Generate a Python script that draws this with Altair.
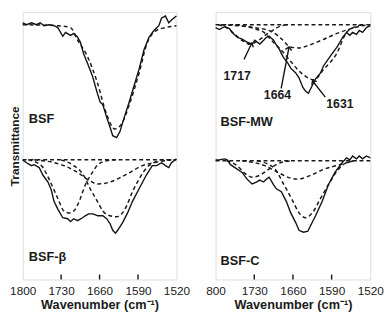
import altair as alt
import pandas as pd

# ---------------- data (arbitrary transmittance units) ----------------
TICKS = [1800, 1730, 1660, 1590, 1520]
INNER_TICKS = [1730, 1660, 1590]

# BSF (top-left) measured spectrum and fit
BSF_WN = [1800,1793,1784,1775,1768,1761,1752,1743,1736,1727,1722,1713,1707,1700,1695,1689,1682,1673,
          1664,1659,1654,1647,1641,1636,1629,1623,1615,1606,1597,1588,1579,1570,1561,1552,1547,1540,
          1534,1529,1520]
BSF_T = [266,264,266,264,266,263,264,263,261,252,256,253,255,251,246,234,224,211,
         193,184,181,168,158,149,147,153,168,184,201,218,238,251,258,263,271,273,
         266,269,273]
BSF_FIT_WN = [1800,1736,1713,1700,1682,1664,1647,1632,1620,1606,1588,1574,1557,1540,1520]
BSF_FIT_T = [264,263,261,248,231,204,171,156,161,181,214,244,258,261,263]

# BSF-MW (top-right)
MW_WN = [1800,1793,1784,1775,1770,1761,1752,1743,1734,1729,1720,1713,1708,1703,1695,1690,1685,1678,1669,1664,
         1655,1649,1642,1637,1632,1625,1619,1610,1605,1593,1580,1570,1563,1557,1552,1545,1540,1534,1527,1520]
MW_T = [261,259,262,260,256,251,249,246,244,248,244,248,251,252,248,243,239,231,224,219,
        214,209,199,195,193,201,208,214,221,231,241,251,256,253,256,254,258,256,261,263]
MW_BASE_WN = [1800, 1520]
MW_BASE_T = [264, 264]
MW_1717_WN = [1795,1780,1765,1750,1736,1722,1708,1697,1685,1670]
MW_1717_T = [264,261,254,247,244,248,254,258,262,264]
MW_1664_WN = [1790,1760,1730,1699,1680,1665,1650,1630,1604,1580,1560,1534,1520]
MW_1664_T = [264,263,261,257,249,241,240,243,249,255,259,263,264]
MW_1631_WN = [1764,1730,1710,1699,1680,1664,1643,1622,1604,1581,1563,1551,1530]
MW_1631_T = [264,260,255,248,237,226,213,207,218,234,256,261,264]

# BSF-beta (bottom-left)
BB_WN = [1800,1793,1784,1779,1770,1763,1754,1748,1743,1736,1727,1718,1713,1707,1700,1691,1686,1680,1672,1663,
         1654,1647,1641,1636,1631,1627,1618,1609,1600,1588,1575,1564,1556,1547,1540,1534,1529,1520]
BB_T = [124,121,118,119,116,108,101,93,81,73,64,63,60,63,61,64,66,68,68,66,
        66,63,58,51,48,51,59,69,81,94,108,118,118,121,118,116,121,125]
BB_BASE_WN = [1800, 1520]
BB_BASE_T = [124, 124]
BB_C1_WN = [1790,1766,1752,1736,1725,1716,1707,1695,1686,1673,1663,1647,1630]
BB_C1_T = [124,118,104,84,71,69,71,84,98,111,119,123,124]
BB_C2_WN = [1730,1707,1689,1677,1664,1654,1641,1629,1620,1611,1600,1588,1574,1561,1547,1530]
BB_C2_T = [124,118,108,94,81,71,66,65,68,76,91,104,116,121,124,124]
BB_C3_WN = [1779,1730,1700,1680,1663,1641,1611,1582,1552,1529]
BB_C3_T = [124,119,111,103,99,101,109,118,122,124]

# BSF-C (bottom-right)
BC_WN = [1800,1793,1784,1779,1773,1765,1752,1743,1734,1726,1720,1713,1708,1703,1695,1690,1681,1672,1664,1655,
         1649,1641,1633,1628,1619,1607,1596,1584,1571,1563,1557,1552,1545,1540,1534,1527,1520]
BC_T = [124,124,125,124,119,116,111,104,99,101,103,101,104,106,98,94,91,81,69,59,
        51,49,50,56,66,81,98,111,121,126,124,128,125,128,125,128,126]
BC_BASE_WN = [1800, 1520]
BC_BASE_T = [123, 123]
BC_C1_WN = [1780,1761,1747,1734,1720,1704,1687,1664]
BC_C1_T = [123,118,110,106,108,114,120,123]
BC_C2_WN = [1752,1711,1687,1664,1651,1628,1605,1575,1550]
BC_C2_T = [123,118,111,105,104,108,114,119,123]
BC_C3_WN = [1725,1695,1676,1660,1649,1637,1625,1610,1593,1578,1563,1545]
BC_C3_T = [123,116,98,81,69,64,69,84,101,114,121,123]

# sample labels
LEFT_LABELS = ["BSF", "BSF-β"]
LEFT_LABEL_WN = [1789, 1789]
LEFT_LABEL_T = [166, 23]
RIGHT_LABELS = ["BSF-MW", "BSF-C"]
RIGHT_LABEL_WN = [1791, 1791]
RIGHT_LABEL_T = [163, 19]

# peak annotations in BSF-MW
PEAK_TEXT = ["1717", "1664", "1631"]
PEAK_TEXT_WN = [1761, 1688, 1575]
PEAK_TEXT_T = [211, 191, 182]
ARROW_FROM_WN = [1748.6, 1681.3, 1601.5]
ARROW_FROM_T = [228, 198, 189]
ARROW_TIP_WN = [1734.4, 1667.0, 1624.6]
ARROW_TIP_T = [245, 241, 206]
ARROW_ANGLE = [25, 10.5, 323]

# ---------------- helpers ----------------
W_L, W_R, H = 157, 158, 273
FONT = "Liberation Sans"

XSCALE = alt.Scale(domain=[1520, 1800], reverse=True, nice=False, zero=False)
YSCALE = alt.Scale(domain=[0, 277], nice=False, zero=False)


def frame(wn, t, name):
    return pd.DataFrame({"wn": wn, "T": t, "series": name})


def xenc(right=False, field="wn"):
    expr = "datum.value == 1800 ? '800' : datum.label" if right else "datum.label"
    return alt.X(
        f"{field}:Q",
        scale=XSCALE,
        axis=alt.Axis(values=TICKS, format="d", tickSize=0, domain=False, grid=False,
                      labelOverlap=False, labelFlush=False, labelBound=False,
                      labelFontSize=12, labelColor="#1a1a1a", labelPadding=6, labelExpr=expr,
                      title="Wavenumber (cm\u207b\u00b9)", titleFontSize=13, titleFontWeight="bold",
                      titleColor="#1a1a1a", titlePadding=3),
    )


def yenc(right=False, field="T"):
    ax = alt.Axis(title="Transmittance", labels=False, ticks=False, domain=False, grid=False,
                  titleFontSize=12, titleFontWeight="bold", titleColor="#1a1a1a", titlePadding=1)
    if right:
        return alt.Y(f"{field}:Q", scale=YSCALE, axis=None)
    return alt.Y(f"{field}:Q", scale=YSCALE, axis=ax)


def panel(solids, fits, labels, width, right=False, extra=None):
    solid_df = pd.concat(solids)
    fit_df = pd.concat(fits)
    sol = alt.Chart(solid_df).mark_line(color="#111", strokeWidth=1.4).encode(
        x=xenc(right), y=yenc(right), detail="series:N"
    )
    fit = alt.Chart(fit_df).mark_line(color="#1a1a1a", strokeWidth=1.5, strokeDash=[4, 3],
                                      interpolate="monotone").encode(
        x=xenc(right), y=yenc(right), detail="series:N"
    )
    lab_df = pd.DataFrame({"wn": labels[1], "T": labels[2], "txt": labels[0]})
    lab = alt.Chart(lab_df).mark_text(align="left", baseline="middle", fontSize=13,
                                      fontWeight="bold", color="#1a1a1a", font=FONT).encode(
        x=xenc(right), y=yenc(right), text="txt:N"
    )
    tk = alt.Chart(pd.DataFrame({"wn": INNER_TICKS})).mark_rule(color="#111", strokeWidth=1.4).encode(
        x=xenc(right), y=alt.value(H), y2=alt.value(H - 5)
    )
    layers = [fit, sol, lab, tk]
    if extra is not None:
        layers += extra
    return alt.layer(*layers).properties(width=width, height=H)


left = panel(
    [frame(BSF_WN, BSF_T, "BSF"), frame(BB_WN, BB_T, "BSF-b")],
    [frame(BSF_FIT_WN, BSF_FIT_T, "fit"), frame(BB_BASE_WN, BB_BASE_T, "b0"),
     frame(BB_C1_WN, BB_C1_T, "b1"), frame(BB_C2_WN, BB_C2_T, "b2"), frame(BB_C3_WN, BB_C3_T, "b3")],
    (LEFT_LABELS, LEFT_LABEL_WN, LEFT_LABEL_T), W_L, right=False,
)

arrow_df = pd.DataFrame({"wn": ARROW_FROM_WN, "T": ARROW_FROM_T, "wn2": ARROW_TIP_WN,
                         "T2": ARROW_TIP_T, "ang": ARROW_ANGLE})
peak_df = pd.DataFrame({"wn": PEAK_TEXT_WN, "T": PEAK_TEXT_T, "txt": PEAK_TEXT})
arrows = alt.Chart(arrow_df).mark_rule(color="#111", strokeWidth=1.4).encode(
    x=xenc(True), y=yenc(True), x2="wn2:Q", y2="T2:Q"
)
heads = alt.Chart(arrow_df).mark_point(shape="M-1,1L0,0L1,1", filled=False, color="#111",
                                       strokeWidth=1.4, size=40, opacity=1).encode(
    x=xenc(True, "wn2"), y=yenc(True, "T2"),
    angle=alt.Angle("ang:Q", scale=None),
)
peaks = alt.Chart(peak_df).mark_text(fontSize=12.5, fontWeight="bold", color="#1a1a1a", font=FONT,
                                     baseline="middle").encode(
    x=xenc(True), y=yenc(True), text="txt:N"
)

right = panel(
    [frame(MW_WN, MW_T, "MW"), frame(BC_WN, BC_T, "C")],
    [frame(MW_BASE_WN, MW_BASE_T, "m0"), frame(MW_1717_WN, MW_1717_T, "m1"),
     frame(MW_1664_WN, MW_1664_T, "m2"), frame(MW_1631_WN, MW_1631_T, "m3"),
     frame(BC_BASE_WN, BC_BASE_T, "c0"), frame(BC_C1_WN, BC_C1_T, "c1"),
     frame(BC_C2_WN, BC_C2_T, "c2"), frame(BC_C3_WN, BC_C3_T, "c3")],
    (RIGHT_LABELS, RIGHT_LABEL_WN, RIGHT_LABEL_T), W_R, right=True,
    extra=[arrows, heads, peaks],
)

chart = (
    alt.hconcat(left, right, spacing=40, bounds="flush")
    .properties(padding={"left": 0, "top": 0, "right": 0, "bottom": 0}, background="white")
    .configure_view(stroke="#111", strokeWidth=1.5)
    .configure(font=FONT)
)

chart.save("out.html", embed_options={"renderer": "svg", "actions": False})
